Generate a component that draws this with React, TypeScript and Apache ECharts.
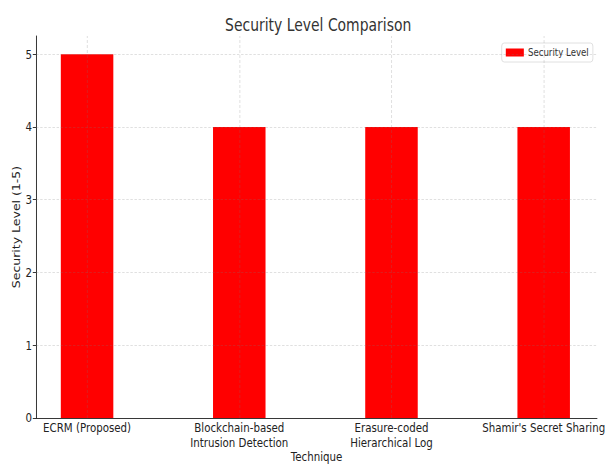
import React, { useEffect, useRef } from "react";
import * as echarts from "echarts";

const categories = [
  "ECRM (Proposed)",
  "Blockchain-based\nIntrusion Detection",
  "Erasure-coded\nHierarchical Log",
  "Shamir's Secret Sharing",
];
const securityLevel = [5, 4, 4, 4];
const yTicks = [0, 1, 2, 3, 4, 5];

const FONT = "'DejaVu Sans', sans-serif";
// The reference image is horizontally squeezed; draw at a wider logical width and compress.
const SX = 0.82;
const W = Math.round(608 / SX);
const H = 464;

export default function App() {
  const ref = useRef<HTMLDivElement>(null);
  useEffect(() => {
    if (!ref.current) return;
    const chart = echarts.init(ref.current, null, { renderer: "svg" });
    const xIdx = categories.map((_, i) => i);
    const gridStyle = { color: "rgba(120,120,120,0.32)", type: [3, 2] as any, width: 0.8 };
    chart.setOption({
      animation: false,
      textStyle: { fontFamily: FONT },
      title: {
        text: "Security Level Comparison",
        left: 383,
        textAlign: "center",
        top: 12,
        textStyle: { fontFamily: FONT, fontSize: 17, fontWeight: "normal", color: "#333" },
      },
      legend: {
        right: 18,
        top: 43,
        icon: "rect",
        itemWidth: 22,
        itemHeight: 8,
        borderColor: "#ddd",
        borderWidth: 1,
        borderRadius: 3,
        padding: [4, 5],
        textStyle: { fontFamily: FONT, fontSize: 10.5, color: "#333" },
        data: ["Security Level"],
      },
      grid: { left: 44, right: 13, top: 36, bottom: 46, containLabel: false, outerBoundsMode: "none" },
      xAxis: {
        type: "value",
        min: -0.335,
        max: 3.35,
        name: "Technique",
        nameLocation: "middle",
        nameGap: 32,
        nameMoveOverlap: false,
        nameTextStyle: { fontFamily: FONT, fontSize: 12.5, color: "#222" },
        axisLine: { show: true, onZero: false, lineStyle: { color: "#222", width: 1 } },
        axisTick: { show: false },
        splitLine: { show: false },
        axisLabel: {
          customValues: xIdx,
          formatter: (v: number) => categories[Math.round(v)] ?? "",
          fontFamily: FONT,
          fontSize: 12.5,
          color: "#222",
          lineHeight: 15,
          margin: 2,
        },
      },
      yAxis: {
        type: "value",
        min: 0,
        max: 5.25,
        name: "Security Level (1-5)",
        nameLocation: "middle",
        nameGap: 18,
        nameMoveOverlap: false,
        nameTextStyle: { fontFamily: FONT, fontSize: 12.5, color: "#222" },
        axisLine: { show: true, onZero: false, lineStyle: { color: "#222", width: 1 } },
        axisTick: { show: true, customValues: yTicks, length: 4, lineStyle: { color: "#222" } },
        splitLine: { show: false },
        axisLabel: {
          customValues: yTicks,
          fontFamily: FONT,
          fontSize: 12.5,
          color: "#222",
          margin: 5,
        },
      },
      series: [
        {
          name: "Security Level",
          type: "custom",
          itemStyle: { color: "#ff0000" },
          encode: { x: 0, y: 1 },
          data: securityLevel.map((v, i) => [i, v]),
          renderItem: (params: any, api: any) => {
            const x = api.value(0);
            const y = api.value(1);
            const top = api.coord([x, y]);
            const base = api.coord([x, 0]);
            const w = api.size([0.345, 0])[0];
            return {
              type: "rect",
              shape: { x: top[0] - w / 2, y: top[1], width: w, height: base[1] - top[1] },
              style: { fill: "#ff0000" },
            };
          },
          markLine: {
            silent: true,
            symbol: "none",
            label: { show: false },
            lineStyle: gridStyle,
            data: [
              ...xIdx.map((i) => ({ xAxis: i })),
              ...yTicks.filter((t) => t > 0).map((t) => ({ yAxis: t })),
            ],
          },
        },
      ],
    });
    return () => chart.dispose();
  }, []);
  return (
    <div
      ref={ref}
      style={{
        width: W,
        height: H,
        position: "absolute",
        left: 0,
        top: 0,
        transform: `scaleX(${SX})`,
        transformOrigin: "0 0",
      }}
    />
  );
}
